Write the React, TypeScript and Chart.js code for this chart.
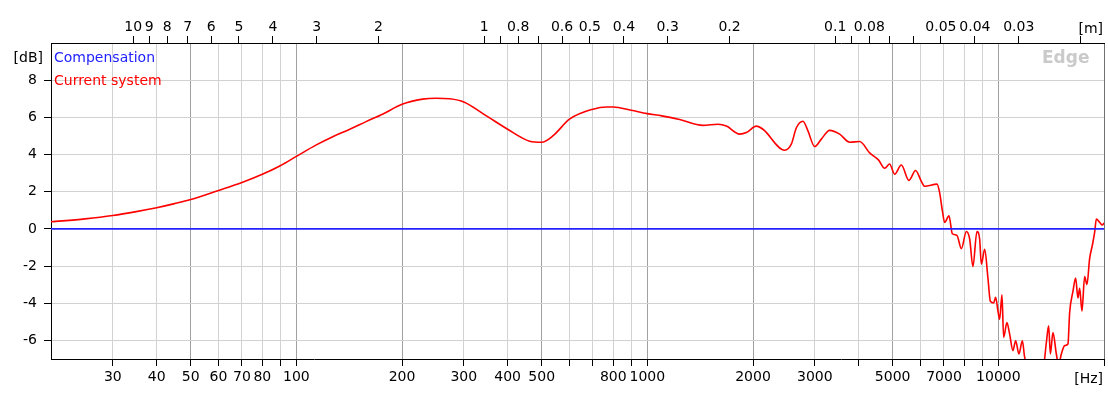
import React, { useEffect, useRef } from 'react';
import { Chart, registerables } from 'chart.js';

Chart.register(...registerables);

const FONT = '"DejaVu Sans", "Liberation Sans", sans-serif';

// Frequency response "Current system" (Hz, dB)
const freqHz = [
  20, 25, 30, 35, 40, 45, 50, 60, 70, 80, 90, 100,
  114, 127, 142, 158, 176, 200, 229, 250, 273, 300, 348, 400,
  462, 500, 538, 600, 700, 764, 800, 900, 1000,
  1100, 1236, 1440, 1589, 1680, 1832, 1915, 2044, 2135,
  2462, 2573, 2658, 2776, 2868, 2997, 3131, 3306, 3531,
  3771, 4026, 4299, 4560, 4744, 4900, 5065, 5292, 5563,
  5813, 6034, 6166, 6686, 6806, 6928, 7031, 7233, 7396,
  7621, 7846, 8106, 8284, 8465, 8690, 8844, 8945, 9141,
  9341, 9489, 9697, 9824, 9975, 10086, 10240, 10354, 10580,
  10770, 11004, 11202, 11447, 11705, 11883, 12280, 12942, 13462,
  13705, 13912, 14067, 14310, 14631, 14853, 15118, 15450, 15788,
  15964, 16314, 16605, 16858, 17046, 17307, 17616, 17883, 18203,
  18529, 18812, 19020, 19437, 19785, 20000,
];
const currentDb = [
  0.38, 0.54, 0.72, 0.93, 1.14, 1.36, 1.58, 2.07, 2.5, 2.94, 3.4, 3.9,
  4.52, 4.96, 5.36, 5.77, 6.17, 6.7, 6.98, 7.03, 7.0, 6.83, 6.08, 5.36,
  4.72, 4.66, 5.0, 5.9, 6.44, 6.56, 6.56, 6.38, 6.2,
  6.08, 5.88, 5.57, 5.63, 5.53, 5.1, 5.18, 5.53, 5.36,
  4.23, 4.57, 5.44, 5.79, 5.27, 4.43, 4.83, 5.3, 5.1,
  4.66, 4.7, 4.09, 3.7, 3.26, 3.49, 2.94, 3.44, 2.61,
  3.14, 2.56, 2.29, 2.41, 1.94, 0.97, 0.35, 0.7, -0.26,
  -0.35, -1.06, -0.14, -0.53, -2.03, -0.14, -0.53, -1.9, -1.1,
  -2.65, -3.89, -3.98, -3.68, -4.42, -4.87, -3.54, -5.84, -5.04,
  -5.66, -6.55, -6.02, -6.73, -6.02, -6.9, -7.6, -8.0, -7.4,
  -6.1, -5.22, -6.73, -5.58, -6.73, -7.3, -6.73, -6.28, -6.19,
  -4.51, -3.36, -2.65, -3.72, -3.19, -4.42, -2.57, -3.0, -1.59,
  -0.88, -0.18, 0.53, 0.35, 0.21, 0.32,
];

// Compensation (flat)
const compFreqHz = [20, 20000];
const compensationDb = [0, 0];

// Bottom axis (Hz)
const freqTicks = [30, 40, 50, 60, 70, 80, 90, 100, 200, 300, 400, 500, 600, 700, 800, 900, 1000,
  2000, 3000, 4000, 5000, 6000, 7000, 8000, 9000, 10000, 20000];
const freqTickLabels = ['30', '40', '50', '60', '70', '80', '', '100', '200', '300', '400', '500', '', '', '800', '', '1000',
  '2000', '3000', '', '5000', '', '7000', '', '', '10000', ''];
const majorFreqs = [50, 100, 200, 500, 1000, 2000, 5000, 10000];

// Top axis (wavelength in m)
const SOUND_SPEED = 343;
const wavelengthTicks = [10, 9, 8, 7, 6, 5, 4, 3, 2, 1, 0.9, 0.8, 0.7, 0.6, 0.5, 0.4, 0.3, 0.2,
  0.1, 0.09, 0.08, 0.07, 0.06, 0.05, 0.04, 0.03, 0.02];
const wavelengthTickLabels = ['10', '9', '8', '7', '6', '5', '4', '3', '2', '1', '', '0.8', '', '0.6', '0.5', '0.4', '0.3', '0.2',
  '0.1', '', '0.08', '', '', '0.05', '0.04', '0.03', ''];

// Left axis (dB)
const dbTicks = [-6, -4, -2, 0, 2, 4, 6, 8];
const dbTickLabels = ['-6', '-4', '-2', '0', '2', '4', '6', '8'];

const annotationPlugin = {
  id: 'annotations',
  afterDraw(chart: any) {
    const { ctx, chartArea } = chart;
    ctx.save();
    ctx.font = `14px ${FONT}`;
    ctx.textBaseline = 'alphabetic';
    ctx.textAlign = 'left';
    chart.data.datasets.forEach((ds: any, i: number) => {
      ctx.fillStyle = ds.borderColor;
      ctx.fillText(ds.label, chartArea.left + 3, chartArea.top + 19 + i * 23);
    });
    ctx.fillStyle = '#000';
    ctx.textAlign = 'right';
    ctx.fillText('[dB]', chartArea.left - 8, chartArea.top + 19);
    ctx.fillText('[Hz]', chartArea.right - 1, 383);
    ctx.fillText('[m]', chartArea.right - 1, 33);
    ctx.textAlign = 'left';
    ctx.font = `bold 17px ${FONT}`;
    ctx.fillStyle = '#cacaca';
    ctx.fillText('Edge', chartArea.right - 62, chartArea.top + 20);
    ctx.restore();
  },
};

export default function App() {
  const canvasRef = useRef<HTMLCanvasElement | null>(null);

  useEffect(() => {
    const canvas = canvasRef.current;
    if (!canvas) return;
    const tickFont = { family: FONT, size: 14 };
    const chart = new Chart(canvas, {
      type: 'line',
      data: {
        datasets: [
          {
            label: 'Compensation',
            data: compFreqHz.map((f, i) => ({ x: f, y: compensationDb[i] })),
            borderColor: '#2222ff',
            borderWidth: 1.8,
            pointRadius: 0,
          },
          {
            label: 'Current system',
            data: freqHz.map((f, i) => ({ x: f, y: currentDb[i] })),
            borderColor: '#ff0000',
            borderWidth: 1.6,
            pointRadius: 0,
            cubicInterpolationMode: 'monotone',
          },
        ],
      },
      options: {
        animation: false,
        responsive: false,
        devicePixelRatio: 1,
        layout: { padding: { left: 0, right: 4, top: 0, bottom: 0 } },
        plugins: { legend: { display: false }, tooltip: { enabled: false } },
        scales: {
          x: {
            type: 'logarithmic',
            position: 'bottom',
            min: 20,
            max: 20000,
            afterBuildTicks: (s: any) => { s.ticks = freqTicks.map((v) => ({ value: v })); },
            afterFit: (s: any) => { s.height = 35; s.paddingLeft = 0; s.paddingRight = 0; },
            ticks: {
              autoSkip: false, maxRotation: 0, minRotation: 0, padding: 3, color: '#000', font: tickFont,
              callback: (_v: any, i: number) => freqTickLabels[i] ?? '',
            },
            grid: {
              color: (ctx: any) => {
                const v = ctx.tick ? ctx.tick.value : 0;
                if (v >= 20000) return '#707070';
                return majorFreqs.includes(v) ? '#a0a0a0' : '#d2d2d2';
              },
              tickColor: '#000',
              tickLength: 7,
              lineWidth: 1,
            },
            border: { color: '#000', width: 1 },
          },
          xTop: {
            type: 'logarithmic',
            position: 'top',
            min: 20,
            max: 20000,
            afterBuildTicks: (s: any) => { s.ticks = wavelengthTicks.map((l) => ({ value: SOUND_SPEED / l })); },
            afterFit: (s: any) => { s.height = 43; s.paddingLeft = 0; s.paddingRight = 0; },
            ticks: {
              autoSkip: false, maxRotation: 0, minRotation: 0, padding: 0, color: '#000', font: tickFont,
              callback: (_v: any, i: number) => wavelengthTickLabels[i] ?? '',
            },
            grid: { drawOnChartArea: false, tickColor: '#000', tickLength: 7 },
            border: { color: '#000', width: 1 },
          },
          y: {
            type: 'linear',
            min: -7,
            max: 10,
            afterBuildTicks: (s: any) => { s.ticks = dbTicks.map((v) => ({ value: v })); },
            afterFit: (s: any) => { s.width = 51; },
            ticks: {
              padding: 7, color: '#000', font: tickFont,
              callback: (_v: any, i: number) => dbTickLabels[i] ?? '',
            },
            grid: { color: '#d2d2d2', tickColor: '#000', tickLength: 7 },
            border: { color: '#000', width: 1 },
          },
        },
      } as any,
      plugins: [annotationPlugin],
    });
    return () => chart.destroy();
  }, []);

  return (
    <div style={{ position: 'absolute', left: 0, top: 0, width: 1108, height: 394, background: '#fff' }}>
      <canvas ref={canvasRef} width={1108} height={394} style={{ width: 1108, height: 394, display: 'block' }} />
    </div>
  );
}
